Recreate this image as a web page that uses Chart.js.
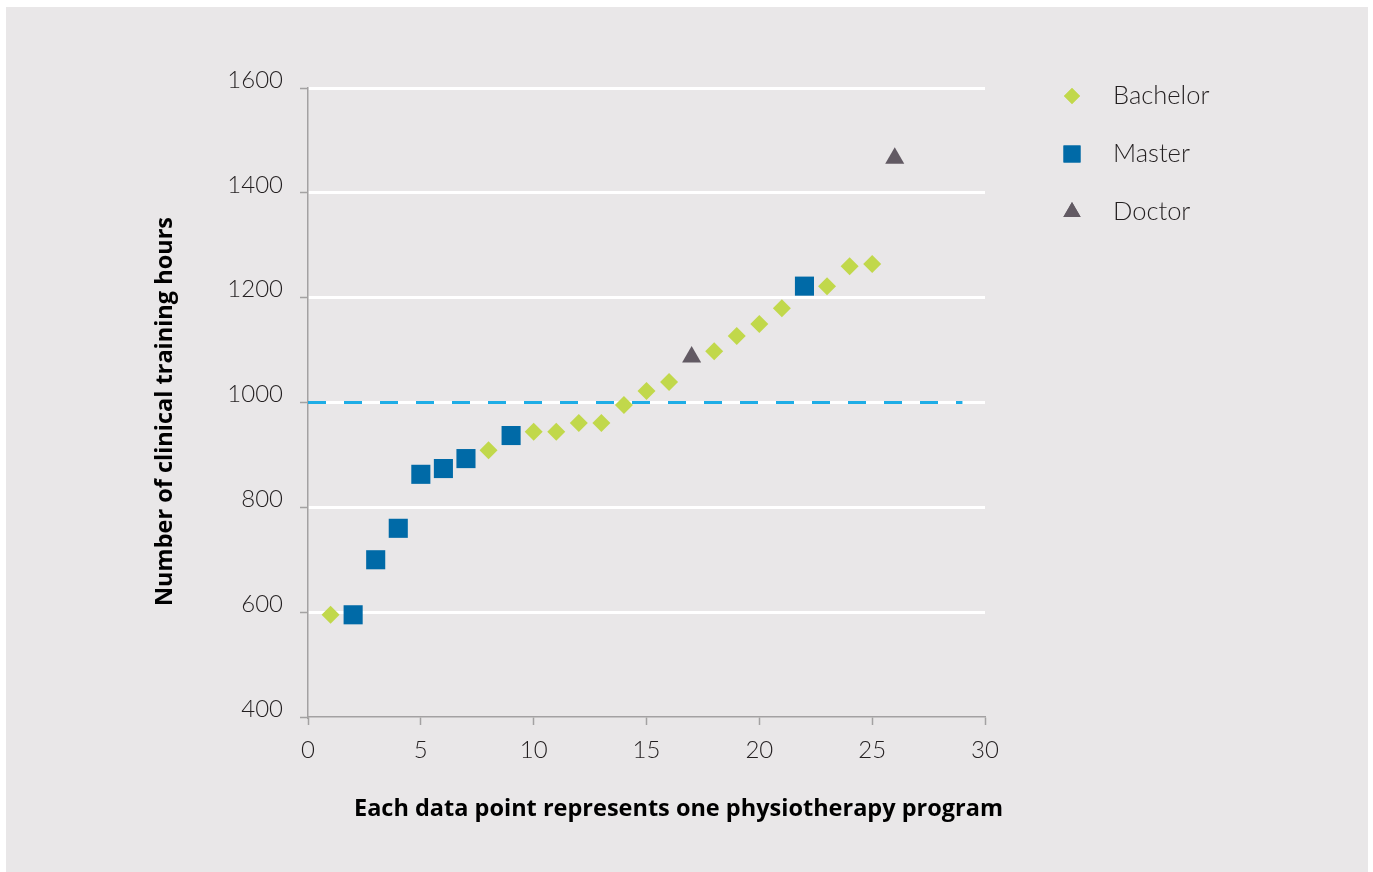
<!DOCTYPE html>
<html>
<head>
<meta charset="utf-8">
<script src="https://cdn.jsdelivr.net/npm/chart.js@4.4.1/dist/chart.umd.min.js"></script>
<style>
  html, body { margin: 0; padding: 0; background: #fff; }
  #wrap { position: relative; width: 1373px; height: 872px; }
</style>
</head>
<body>
<div id="wrap"><canvas id="hoursChart"></canvas></div>
<script>
// --- Data (program index on x, clinical hours on y) ---
const bachelorX = [1, 8, 10, 11, 12, 13, 14, 15, 16, 18, 19, 20, 21, 23, 24, 25];
const bachelorHours = [595, 909, 944, 944, 961, 961, 995, 1022, 1039, 1098, 1127, 1150, 1180, 1222, 1260, 1264];
const masterX = [2, 3, 4, 5, 6, 7, 9, 22];
const masterHours = [595, 700, 760, 863, 874, 893, 937, 1222];
const doctorX = [17, 26];
const doctorHours = [1087, 1466];
const thresholdX = [0, 29];
const thresholdHours = [1000, 1000];

const yTicks = [400, 600, 800, 1000, 1200, 1400, 1600];
const xTicks = [0, 5, 10, 15, 20, 25, 30];

const xTitle = 'Each data point represents one physiotherapy program';
const yTitle = 'Number of clinical training hours';

const FONT = "Lato, 'Noto Sans', sans-serif";
const TITLE_FONT = "'Open Sans', Lato, sans-serif";
const AXIS_GREY = '#a3a1a2';
const TEXT = '#231f20';

const toPoints = (xs, ys) => xs.map((x, i) => ({ x, y: ys[i] }));

// Panel background: white frame with grey card
const backgroundPlugin = {
  id: 'panelBackground',
  beforeDraw(chart) {
    const { ctx, width, height } = chart;
    ctx.save();
    ctx.fillStyle = '#ffffff';
    ctx.fillRect(0, 0, width, height);
    ctx.fillStyle = '#e9e7e8';
    ctx.fillRect(6, 7, width - 11, height - 7);
    ctx.restore();
  },
};

// Axis titles sit a little off-centre in the original, so draw them here
const axisTitlesPlugin = {
  id: 'axisTitles',
  afterDraw(chart) {
    const { ctx, chartArea } = chart;
    const midX = (chartArea.left + chartArea.right) / 2;
    const midY = (chartArea.top + chartArea.bottom) / 2;
    ctx.save();
    ctx.fillStyle = '#000';
    ctx.font = '700 23.5px ' + TITLE_FONT;
    ctx.textAlign = 'center';
    ctx.textBaseline = 'middle';
    ctx.fillText(xTitle, midX + 32, chartArea.bottom + 92);
    ctx.translate(chartArea.left - 143, midY + 9);
    ctx.rotate(-Math.PI / 2);
    ctx.fillText(yTitle, 0, 0);
    ctx.restore();
  },
};

// Legend drawn to the right of the plot, one row per series
const sideLegendPlugin = {
  id: 'sideLegend',
  afterDraw(chart) {
    const { ctx, chartArea } = chart;
    const markerX = chartArea.right + 87;
    const textX = chartArea.right + 128;
    let y = chartArea.top + 8;
    ctx.save();
    chart.data.datasets.forEach((ds) => {
      if (ds.hideInLegend) return;
      ctx.fillStyle = ds.backgroundColor;
      Chart.helpers.drawPoint(ctx, {
        pointStyle: ds.pointStyle,
        radius: ds.legendRadius,
        rotation: 0,
        borderWidth: 0,
      }, markerX, y);
      ctx.fill();
      ctx.fillStyle = TEXT;
      ctx.font = '300 25.5px ' + FONT;
      ctx.textBaseline = 'middle';
      ctx.textAlign = 'left';
      ctx.fillText(ds.label, textX, y);
      y += 58;
    });
    ctx.restore();
  },
};

const plainNumber = (v) => String(v);

const hoursChart = new Chart(document.getElementById('hoursChart'), {
  type: 'scatter',
  data: {
    datasets: [
      {
        label: 'Bachelor',
        data: toPoints(bachelorX, bachelorHours),
        pointStyle: 'rectRot',
        pointRadius: 9,
        legendRadius: 8,
        backgroundColor: '#c1d84b',
        borderWidth: 0,
        order: 1,
      },
      {
        label: 'Master',
        data: toPoints(masterX, masterHours),
        pointStyle: 'rect',
        pointRadius: 13.5,
        legendRadius: 12,
        backgroundColor: '#006aa7',
        borderWidth: 0,
        order: 1,
      },
      {
        label: 'Doctor',
        data: toPoints(doctorX, doctorHours),
        pointStyle: 'triangle',
        pointRadius: 11,
        legendRadius: 10,
        backgroundColor: '#625a63',
        borderWidth: 0,
        order: 1,
      },
      {
        label: '1000 hours',
        type: 'line',
        hideInLegend: true,
        data: toPoints(thresholdX, thresholdHours),
        borderColor: '#1eade6',
        borderWidth: 3,
        borderDash: [18, 18],
        pointRadius: 0,
        fill: false,
        order: 2,
      },
    ],
  },
  plugins: [backgroundPlugin, axisTitlesPlugin, sideLegendPlugin],
  options: {
    responsive: true,
    maintainAspectRatio: false,
    animation: false,
    devicePixelRatio: 1,
    layout: { padding: { left: 140, right: 388, top: 88, bottom: 40 } },
    plugins: {
      legend: { display: false },
      tooltip: { enabled: false },
    },
    scales: {
      x: {
        type: 'linear',
        min: 0,
        max: 30,
        afterFit(scale) { scale.height = 115; },
        afterBuildTicks(scale) { scale.ticks = xTicks.map((v) => ({ value: v })); },
        border: { color: AXIS_GREY, width: 1.5 },
        grid: {
          drawOnChartArea: false,
          tickColor: AXIS_GREY,
          tickLength: 8,
          tickWidth: 1.5,
        },
        ticks: {
          padding: 11,
          color: TEXT,
          callback: plainNumber,
          font: { family: FONT, size: 24, weight: '300' },
        },
      },
      y: {
        min: 400,
        max: 1600,
        afterFit(scale) { scale.width = 168; },
        afterBuildTicks(scale) { scale.ticks = yTicks.map((v) => ({ value: v })); },
        border: { color: AXIS_GREY, width: 1.5 },
        grid: {
          color: (c) => (c.tick && c.tick.value === 400 ? 'rgba(0,0,0,0)' : '#ffffff'),
          lineWidth: 3,
          tickColor: AXIS_GREY,
          tickLength: 8,
          tickWidth: 1.5,
        },
        ticks: {
          padding: 17,
          labelOffset: -8,
          color: TEXT,
          callback: plainNumber,
          font: { family: FONT, size: 24, weight: '300' },
        },
      },
    },
  },
});
</script>
</body>
</html>
